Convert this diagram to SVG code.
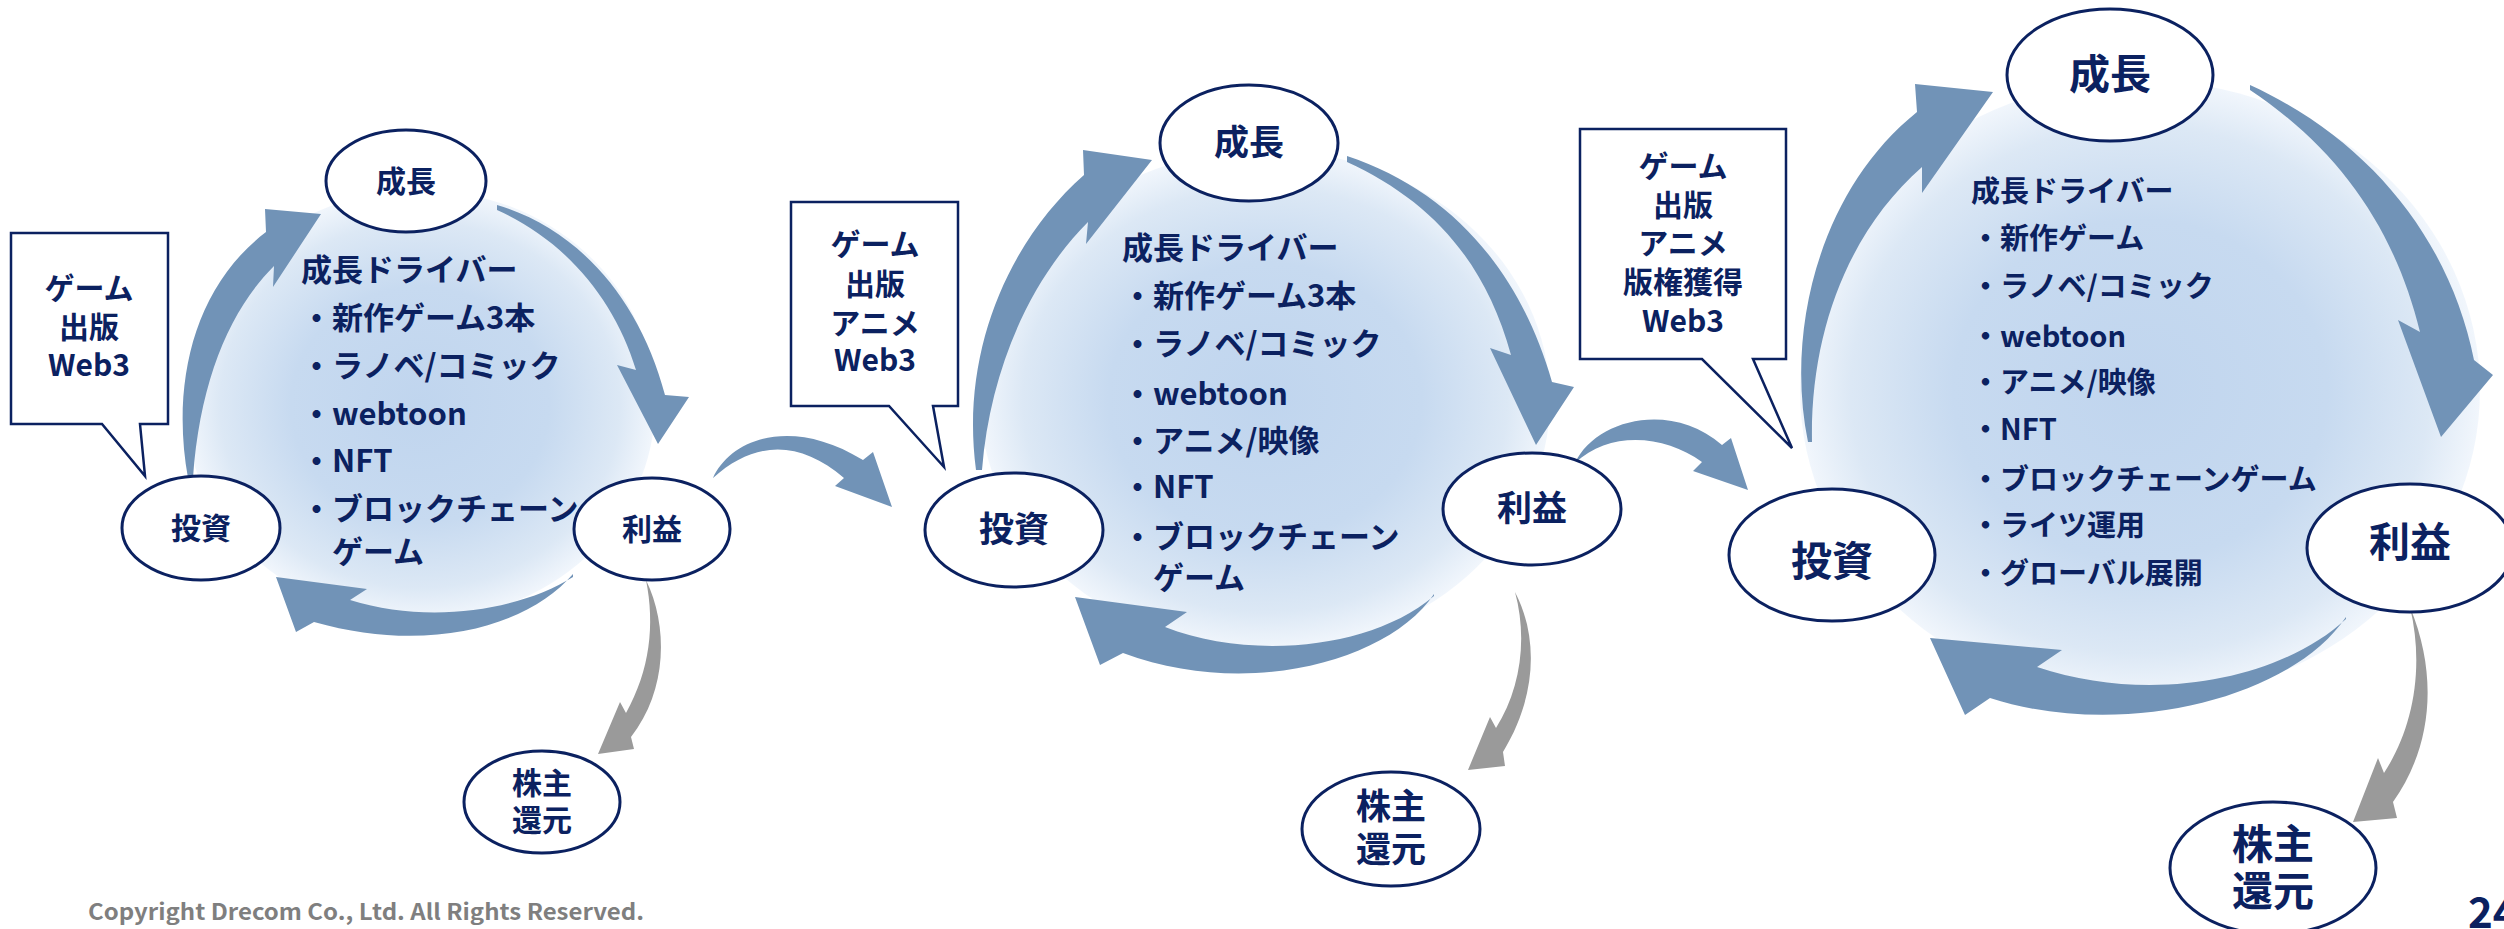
<svg xmlns="http://www.w3.org/2000/svg" width="2504" height="929" viewBox="0 0 2504 929">
<defs>
<radialGradient id="glow" cx="0.5" cy="0.5" r="0.5">
<stop offset="0" stop-color="#c0d5ee"/>
<stop offset="0.55" stop-color="#c7daf0"/>
<stop offset="0.85" stop-color="#dce8f5"/>
<stop offset="1" stop-color="#f1f6fc"/>
</radialGradient>
<style>
.t{font-family:"Noto Sans CJK JP","Noto Sans",sans-serif;font-weight:700;fill:#0b2160}
.b{font-size:30px}
.b1{font-size:31px}
.b3{font-size:29px}
.c{text-anchor:middle}
.node{fill:#fff;stroke:#0b2160;stroke-width:3}
.call{fill:#fff;stroke:#0b2160;stroke-width:2.5;stroke-linejoin:miter}
.arr{fill:#7193b7}
.gray{fill:#9a9a9a}
</style>
</defs>
<rect width="2504" height="929" fill="#fff"/>
<g id="glows">
<ellipse cx="420" cy="405" rx="235" ry="215" fill="url(#glow)"/>
<ellipse cx="1265" cy="400" rx="285" ry="250" fill="url(#glow)"/>
<ellipse cx="2140" cy="390" rx="340" ry="310" fill="url(#glow)"/>
</g>
<g id="connectors">
<path class="arr" d="M188,478 C172,390 190,290 266,232 L265,209 L321,214 L273,287 L274,266 C230,310 200,380 193,478 Z"/>
<path class="arr" d="M497,205 C580,230 640,300 665,395 L689,397 L658,444 L617,365 L636,370 C615,300 565,240 497,210 Z"/>
<path class="arr" d="M573,574 C530,625 430,655 314,622 L296,632 L276,577 L367,589 L350,600 C430,625 520,610 573,577 Z"/>
<path class="gray" d="M646,580 C668,625 668,690 631,737 L634,749 L598,754 L620,702 L626,713 C650,670 655,625 646,580 Z"/>
<path class="arr" d="M713,478 C730,440 790,415 863,460 L873,452 L892,507 L835,486 L844,478 C800,440 755,440 713,478 Z"/>
<path class="arr" d="M976,470 C960,350 1010,240 1084,175 L1083,150 L1152,160 L1086,244 L1088,222 C1030,280 990,370 982,470 Z"/>
<path class="arr" d="M1347,156 C1450,190 1520,270 1552,382 L1574,387 L1536,445 L1490,348 L1511,355 C1485,260 1430,200 1347,162 Z"/>
<path class="arr" d="M1434,594 C1390,660 1250,700 1123,653 L1100,665 L1075,597 L1187,612 L1165,627 C1250,660 1370,650 1434,596 Z"/>
<path class="gray" d="M1515,592 C1540,640 1535,700 1503,752 L1505,766 L1468,770 L1490,717 L1496,728 C1520,690 1528,640 1515,592 Z"/>
<path class="arr" d="M1575,463 C1595,420 1670,400 1722,445 L1731,438 L1748,490 L1693,471 L1702,462 C1665,435 1610,430 1575,463 Z"/>
<path class="arr" d="M1808,442 C1785,330 1820,190 1917,112 L1915,84 L1993,92 L1922,193 L1922,167 C1850,230 1810,330 1812,442 Z"/>
<path class="arr" d="M2250,85 C2370,140 2450,240 2474,360 L2493,375 L2441,437 L2398,320 L2420,332 C2395,230 2340,150 2250,90 Z"/>
<path class="arr" d="M2346,617 C2290,700 2120,740 1990,698 L1965,715 L1930,638 L2062,650 L2037,667 C2150,705 2280,680 2346,619 Z"/>
<path class="gray" d="M2410,607 C2440,680 2430,750 2393,802 L2397,818 L2353,822 L2378,758 L2384,773 C2412,730 2425,670 2410,607 Z"/>
</g>
<g id="drivers1" class="t b1">
<text x="301" y="281">成長ドライバー</text>
<text x="301" y="329">・新作ゲーム3本</text>
<text x="301" y="377">・ラノベ/コミック</text>
<text x="301" y="425">・webtoon</text>
<text x="301" y="472">・NFT</text>
<text x="301" y="520">・ブロックチェーン</text>
<text x="332" y="563">ゲーム</text>
</g>
<g id="drivers2" class="t b1">
<text x="1122" y="259">成長ドライバー</text>
<text x="1122" y="307">・新作ゲーム3本</text>
<text x="1122" y="355">・ラノベ/コミック</text>
<text x="1122" y="405">・webtoon</text>
<text x="1122" y="452">・アニメ/映像</text>
<text x="1122" y="498">・NFT</text>
<text x="1122" y="548">・ブロックチェーン</text>
<text x="1153" y="589">ゲーム</text>
</g>
<g id="drivers3" class="t b3">
<text x="1971" y="202">成長ドライバー</text>
<text x="1971" y="249">・新作ゲーム</text>
<text x="1971" y="297">・ラノベ/コミック</text>
<text x="1971" y="347">・webtoon</text>
<text x="1971" y="393">・アニメ/映像</text>
<text x="1971" y="440">・NFT</text>
<text x="1971" y="490">・ブロックチェーンゲーム</text>
<text x="1971" y="536">・ライツ運用</text>
<text x="1971" y="584">・グローバル展開</text>
</g>
<g id="callout1">
<path class="call" d="M11,233 H168 V424 H140 L145,476 L102,424 H11 Z"/>
<g class="t b c"><text x="89" y="299">ゲーム</text><text x="89" y="338">出版</text><text x="89" y="376">Web3</text></g>
</g>
<g id="callout2">
<path class="call" d="M791,202 H958 V406 H933 L944,467 L889,406 H791 Z"/>
<g class="t b c"><text x="875" y="255">ゲーム</text><text x="875" y="295">出版</text><text x="875" y="334">アニメ</text><text x="875" y="371">Web3</text></g>
</g>
<g id="callout3">
<path class="call" d="M1580,129 H1786 V359 H1753 L1792,448 L1702,359 H1580 Z"/>
<g class="t b c"><text x="1683" y="177">ゲーム</text><text x="1683" y="216">出版</text><text x="1683" y="254">アニメ</text><text x="1683" y="293">版権獲得</text><text x="1683" y="332">Web3</text></g>
</g>
<g id="growth1"><ellipse class="node" cx="406" cy="181" rx="80" ry="51"/><text class="t c" x="406" y="192" font-size="30">成長</text></g>
<g id="invest1"><ellipse class="node" cx="201" cy="528" rx="79" ry="52"/><text class="t c" x="201" y="539" font-size="30">投資</text></g>
<g id="profit1"><ellipse class="node" cx="652" cy="529" rx="78" ry="51"/><text class="t c" x="652" y="540" font-size="30">利益</text></g>
<g id="return1"><ellipse class="node" cx="542" cy="802" rx="78" ry="51"/><text class="t c" x="542" y="794" font-size="30">株主</text><text class="t c" x="542" y="831" font-size="30">還元</text></g>
<g id="growth2"><ellipse class="node" cx="1249" cy="143" rx="89" ry="58"/><text class="t c" x="1249" y="155" font-size="35">成長</text></g>
<g id="invest2"><ellipse class="node" cx="1014" cy="530" rx="89" ry="57"/><text class="t c" x="1014" y="542" font-size="35">投資</text></g>
<g id="profit2"><ellipse class="node" cx="1532" cy="509" rx="89" ry="56"/><text class="t c" x="1532" y="521" font-size="35">利益</text></g>
<g id="return2"><ellipse class="node" cx="1391" cy="829" rx="89" ry="57"/><text class="t c" x="1391" y="819" font-size="35">株主</text><text class="t c" x="1391" y="862" font-size="35">還元</text></g>
<g id="growth3"><ellipse class="node" cx="2110" cy="75" rx="103" ry="66"/><text class="t c" x="2110" y="89" font-size="41">成長</text></g>
<g id="invest3"><ellipse class="node" cx="1832" cy="555" rx="103" ry="66"/><text class="t c" x="1832" y="576" font-size="41">投資</text></g>
<g id="profit3"><ellipse class="node" cx="2410" cy="548" rx="103" ry="64"/><text class="t c" x="2410" y="557" font-size="41">利益</text></g>
<g id="return3"><ellipse class="node" cx="2273" cy="868" rx="103" ry="66"/><text class="t c" x="2273" y="859" font-size="41">株主</text><text class="t c" x="2273" y="906" font-size="41">還元</text></g>
<text x="88" y="920" font-family="Noto Sans CJK JP, Noto Sans, sans-serif" font-weight="700" font-size="22" fill="#7f7f7f" textLength="556" lengthAdjust="spacingAndGlyphs">Copyright Drecom Co., Ltd. All Rights Reserved.</text>
<text class="t" x="2468" y="928" font-size="42">24</text>
</svg>
